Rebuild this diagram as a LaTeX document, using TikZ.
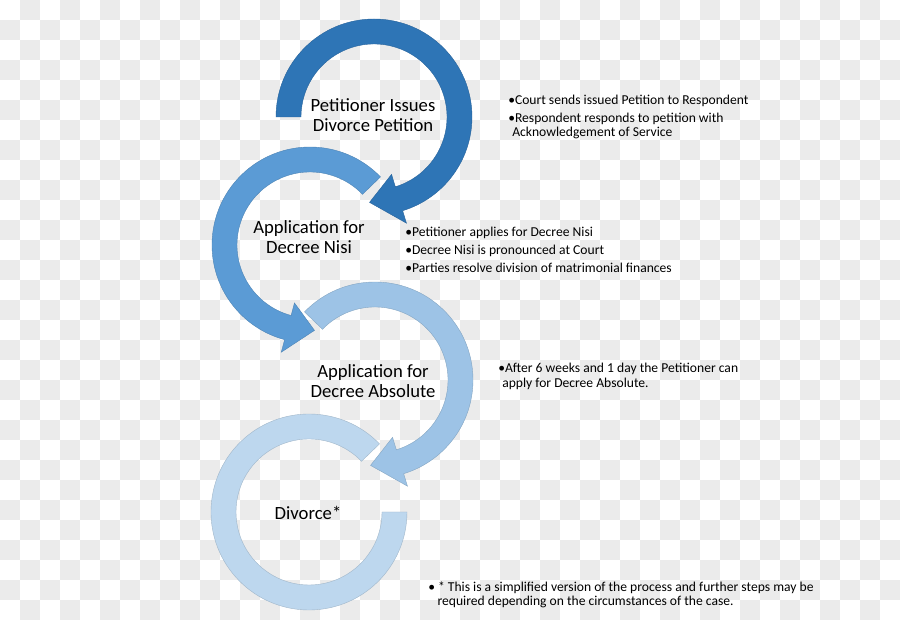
\documentclass[tikz,border=0pt]{standalone}
\usepackage{fontspec}
\setmainfont{Carlito}
\usepackage{tikz}
\usetikzlibrary{calc,positioning}

\definecolor{petblue}{HTML}{2E75B6}
\definecolor{nisiblue}{HTML}{5B9BD5}
\definecolor{absblue}{HTML}{9DC3E6}
\definecolor{divblue}{HTML}{BDD7EE}
\definecolor{chkgray}{HTML}{EBEBEB}

% ring with arrow head: centre, start angle, head angle, tip angle, colour
\newcommand{\ringarrow}[5]{%
  \fill[#5, draw=#5!85!black, line width=0.3pt]
    ($(#1)+(#2:98)$) arc[start angle=#2, end angle=#3, radius=98]
    -- ($(#1)+(#3:111)$) -- ($(#1)+(#4:85.5)$) -- ($(#1)+(#3:60)$)
    -- ($(#1)+(#3:73)$) arc[start angle=#3, end angle=#2, radius=73] -- cycle;
}

\begin{document}
\begin{tikzpicture}[x=0.75pt, y=0.75pt,
  steplabel/.style={align=center, font=\fontsize{14}{15}\selectfont, inner sep=0pt},
  notes/.style={align=left, anchor=west, font=\fontsize{10.2}{10.5}\selectfont, inner sep=0pt}]

% checker background
\foreach \i in {0,...,44} {
  \foreach \j in {0,...,30} {
    \ifodd\numexpr\i+\j\relax
      \fill[chkgray] (20*\i, 600-20*\j) rectangle ++(20,20);
    \fi
  }
}
\useasboundingbox (0,0) rectangle (900,620);

\coordinate (c1) at (374,503);
\coordinate (c2) at (310,375);
\coordinate (c3) at (375,240);
\coordinate (c4) at (309,108);

% last ring has no head
\fill[divblue, draw=divblue!85!black, line width=0.3pt]
  ($(c4)+(44:98)$) arc[start angle=44, end angle=360, radius=98]
  -- ($(c4)+(0:73)$) arc[start angle=360, end angle=44, radius=73] -- cycle;
\ringarrow{c3}{136}{-73}{-93}{absblue}
\ringarrow{c2}{44}{255}{273}{nisiblue}
\ringarrow{c1}{180}{-73}{-93}{petblue}

\node[steplabel] (issue) at (373,505) {Petitioner Issues\\Divorce Petition};
\node[steplabel] (nisi) at (309,383) {Application for\\Decree Nisi};
\node[steplabel] (absolute) at (373,239) {Application for\\Decree Absolute};
\node[steplabel] (divorce) at (308,107) {Divorce*};

\node[notes] (issuenotes) at (508,503) {\textbullet Court sends issued Petition to Respondent\\[3pt]
  \textbullet Respondent responds to petition with\\\hspace*{3pt}Acknowledgement of Service};
\node[notes] (nisinotes) at (405,370) {\textbullet Petitioner applies for Decree Nisi\\[3pt]
  \textbullet Decree Nisi is pronounced at Court\\[3pt]
  \textbullet Parties resolve division of matrimonial finances};
\node[notes] (absnotes) at (498,244) {\textbullet After 6 weeks and 1 day the Petitioner can\\[0.75pt]
  \hspace*{3pt}apply for Decree Absolute.};
\node[notes] (footnote) at (428,25) {\textbullet\ * This is a simplified version of the process and further steps may be\\
  \hspace*{7pt}required depending on the circumstances of the case.};

\end{tikzpicture}
\end{document}
